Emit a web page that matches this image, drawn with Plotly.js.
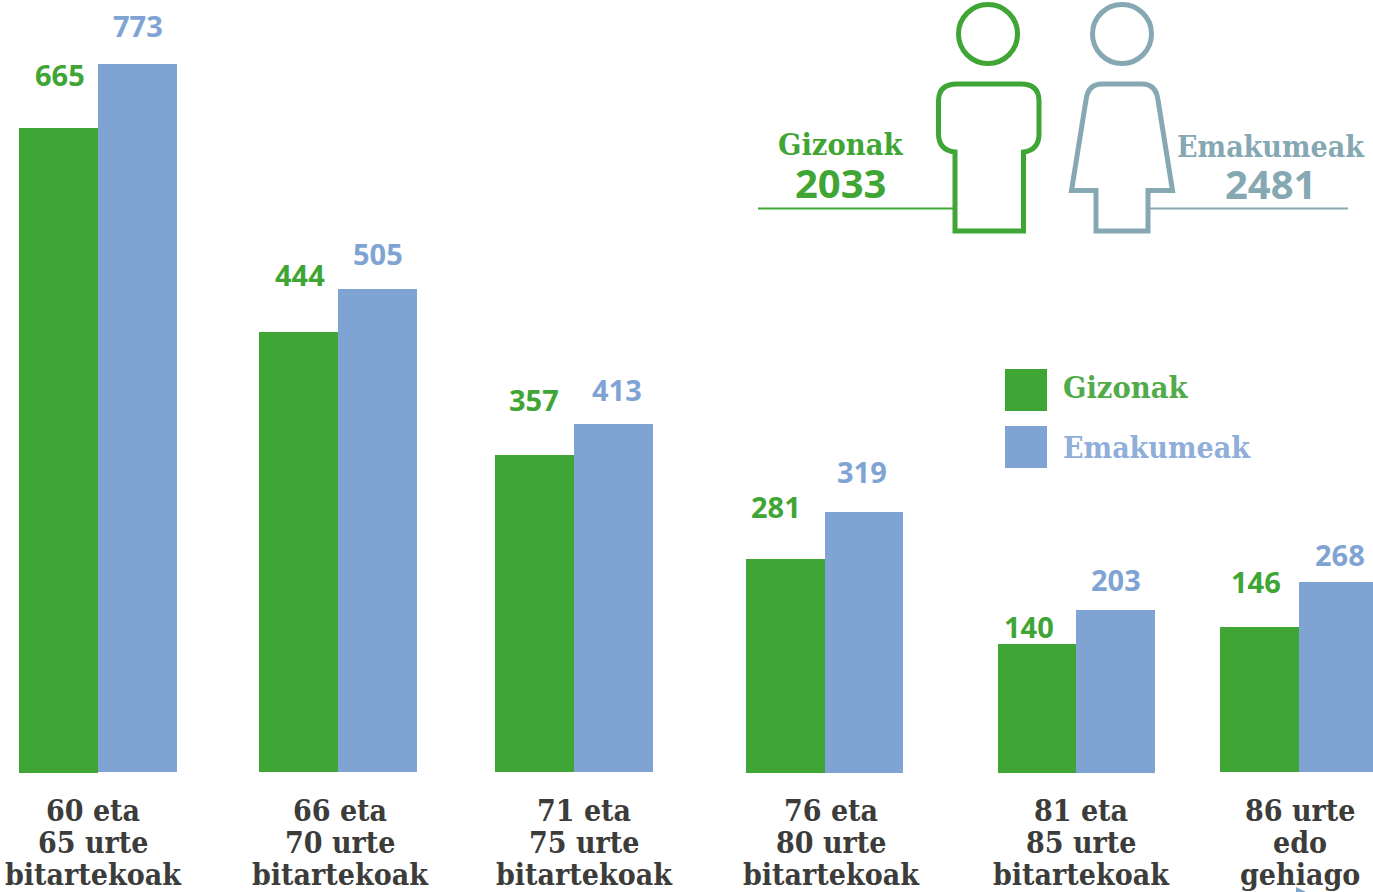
<!DOCTYPE html>
<html>
<head>
<meta charset="utf-8">
<script src="https://cdn.plot.ly/plotly-3.0.1.min.js"></script>
<style>html,body{margin:0;padding:0;background:#fff;overflow:hidden}#chart{width:1373px;height:892px}</style>
</head>
<body>
<div id="chart"></div>
<script>
// Printed figures, as labelled in the picture
const seriesNames = ["Gizonak", "Emakumeak"];
const gizonakValues = [665, 444, 357, 281, 140, 146];
const emakumeakValues = [773, 505, 413, 319, 203, 268];
const totals = [2033, 2481];
const categoryLines = [
  ["60 eta", "65 urte", "bitartekoak"],
  ["66 eta", "70 urte", "bitartekoak"],
  ["71 eta", "75 urte", "bitartekoak"],
  ["76 eta", "80 urte", "bitartekoak"],
  ["81 eta", "85 urte", "bitartekoak"],
  ["86 urte", "edo", "gehiago"]
];
// Drawn bar heights (the source's bars are not to the scale of its labels)
const gizonakHeights = [645, 440, 317, 214, 129, 145];
const emakumeakHeights = [708, 483, 348, 261, 163, 190];

// Layout, in page pixels
const gizonakCenters = [58.5, 298.5, 534.5, 785.5, 1037, 1259.5];
const emakumeakCenters = [137.5, 377.5, 613.5, 864, 1115.5, 1338.5];
const gizonakWidths = [79, 79, 79, 79, 78, 79];
const emakumeakWidths = [79, 79, 79, 78, 79, 79];
const gizonakBases = [-1, 0, 0, -1, -1, 0];
const emakumeakBases = [0, 0, 0, -1, -1, 0];
const gizonakLabelPos = [[60,74],[300,274],[534,399],[776,506],[1029,626],[1256,581]];
const emakumeakLabelPos = [[137.5,25],[377.5,253],[617,389],[862,471],[1116,579],[1340,554]];
const categoryCenters = [93, 340, 584, 831, 1081, 1300];
const categoryLineY = [810, 842, 874];

const GREEN = "#3FA535", BLUE = "#7FA4D4", TEAL = "#85A8B3", DARK = "#3C3C3B";
const LEG_GREEN = "#52AB4A", LEG_BLUE = "#8FAEDA";
const SANS = '"Open Sans", sans-serif', SERIF = '"DejaVu Serif Condensed", "Liberation Serif", serif';

const traces = [
  {type:"bar", name:seriesNames[0], x:gizonakCenters, y:gizonakHeights, base:gizonakBases, width:gizonakWidths,
   marker:{color:GREEN, line:{width:0}}, hoverinfo:"skip"},
  {type:"bar", name:seriesNames[1], x:emakumeakCenters, y:emakumeakHeights, base:emakumeakBases, width:emakumeakWidths,
   marker:{color:BLUE, line:{width:0}}, hoverinfo:"skip"}
];

function txt(x, y, text, size, color, family, weight, xanchor) {
  return {xref:"x", yref:"y2", x:x, y:y, text:String(text), showarrow:false, xanchor:xanchor||"center", yanchor:"middle",
          font:{size:size, color:color, family:family, weight:weight}};
}
const annotations = [];
gizonakValues.forEach((v,i)=>annotations.push(txt(gizonakLabelPos[i][0], gizonakLabelPos[i][1], v, 29, GREEN, SANS, 700)));
emakumeakValues.forEach((v,i)=>annotations.push(txt(emakumeakLabelPos[i][0], emakumeakLabelPos[i][1], v, 29, BLUE, SANS, 700)));
categoryLines.forEach((lines,i)=>lines.forEach((l,j)=>annotations.push(txt(categoryCenters[i], categoryLineY[j], l, 30, DARK, SERIF, 700))));
annotations.push(txt(840,144,seriesNames[0],30.5,GREEN,SERIF,700));
annotations.push(txt(840,182,totals[0],40,GREEN,SANS,700));
annotations.push(txt(1271,146,seriesNames[1],30,TEAL,SERIF,700));
annotations.push(txt(1270,183,totals[1],40,TEAL,SANS,700));
annotations.push(txt(1060.5,387,seriesNames[0],30.5,LEG_GREEN,SERIF,700,"left"));
annotations.push(txt(1060.5,447,seriesNames[1],30,LEG_BLUE,SERIF,700,"left"));

const sh = (o)=>Object.assign({xref:"x", yref:"y2", layer:"above"}, o);
const shapes = [
  // legend swatches
  sh({type:"rect", x0:1005, x1:1047, y0:369, y1:411, fillcolor:GREEN, line:{width:0}}),
  sh({type:"rect", x0:1005, x1:1047, y0:426, y1:468, fillcolor:BLUE, line:{width:0}}),
  // leader lines
  sh({type:"line", x0:758, x1:954, y0:208.5, y1:208.5, line:{color:GREEN, width:2.2}}),
  sh({type:"line", x0:1147, x1:1348, y0:208.5, y1:208.5, line:{color:TEAL, width:2.2}}),
  // man
  sh({type:"circle", x0:958.5, x1:1017.5, y0:4.5, y1:63.5, line:{color:GREEN, width:5}}),
  sh({type:"path", path:"M 955 231 L 955 152 Q 938.5 150 938.5 134 L 938.5 101 Q 938.5 84 957 84 L 1021 84 Q 1039 84 1039 101 L 1039 134 Q 1039 150 1023.5 152 L 1023.5 231 Z",
      line:{color:GREEN, width:5, join:"round"}}),
  // woman
  sh({type:"circle", x0:1092.5, x1:1151.5, y0:4.5, y1:63.5, line:{color:TEAL, width:5}}),
  sh({type:"path", path:"M 1096 231 L 1096 190.5 L 1071.5 190.5 L 1086 100 Q 1088 84 1102 84 L 1142 84 Q 1156 84 1158 100 L 1172.5 190.5 L 1148 190.5 L 1148 231 Z",
      line:{color:TEAL, width:5, join:"round"}}),
  // small stray mark at the bottom edge of the source
  sh({type:"path", path:"M 1296 887 L 1306 892 L 1296 892 Z", fillcolor:BLUE, line:{width:0}})
];

const layout = {
  width:1373, height:892, margin:{l:0,r:0,t:0,b:0},
  paper_bgcolor:"#fff", plot_bgcolor:"#fff", showlegend:false, barmode:"overlay", bargap:0,
  font:{family:SANS},
  xaxis:{range:[0,1373], visible:false, fixedrange:true},
  yaxis:{range:[-120,772], visible:false, fixedrange:true},
  yaxis2:{range:[892,0], visible:false, overlaying:"y", fixedrange:true},
  annotations:annotations, shapes:shapes
};
Plotly.newPlot("chart", traces, layout, {displayModeBar:false, staticPlot:true});
</script>
</body>
</html>
